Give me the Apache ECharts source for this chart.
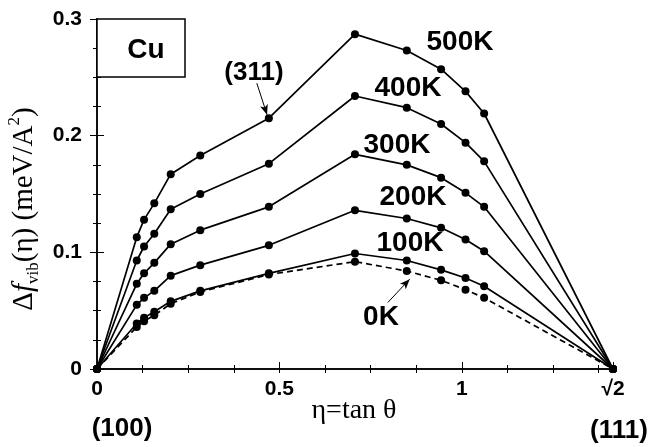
<!DOCTYPE html>
<html>
<head>
<meta charset="utf-8">
<script src="https://cdn.jsdelivr.net/npm/echarts@6/dist/echarts.min.js"></script>
<style>
    html, body { margin: 0; padding: 0; background: #fff; }
    #chartDiv { width: 652px; height: 447px; }
</style>
</head>
<body>
<div id="chartDiv"></div>
<script>
    // eta = tan(theta), (100) ... (311) (211) ... (111)
    var eta = [0, 0.109, 0.129, 0.157, 0.202, 0.283, 0.471, 0.707, 0.849, 0.943, 1.010, 1.061, 1.4142];
    var t500 = [0, 0.113, 0.128, 0.142, 0.167, 0.183, 0.215, 0.287, 0.273, 0.257, 0.238, 0.219, 0];
    var t400 = [0, 0.093, 0.105, 0.116, 0.137, 0.150, 0.176, 0.234, 0.224, 0.210, 0.194, 0.178, 0];
    var t300 = [0, 0.073, 0.082, 0.091, 0.107, 0.119, 0.139, 0.184, 0.175, 0.164, 0.151, 0.139, 0];
    var t200 = [0, 0.055, 0.061, 0.067, 0.080, 0.089, 0.106, 0.136, 0.129, 0.121, 0.111, 0.101, 0];
    var t100 = [0, 0.039, 0.044, 0.049, 0.058, 0.067, 0.082, 0.099, 0.093, 0.085, 0.078, 0.071, 0];
    var t0 = [0, 0.036, 0.041, 0.046, 0.056, 0.066, 0.081, 0.092, 0.084, 0.076, 0.068, 0.061, 0];
    var xTickLabels = {0: '0', 0.5: '0.5', 1: '1'};

    var sans = 'Liberation Sans, Arial, sans-serif';
    var serif = 'Liberation Serif, Times New Roman, serif';
    var gridBox = {left: 97, right: 39, top: 19, bottom: 78};

    function pts(ys) {
        return eta.map(function (x, i) { return [x, ys[i]]; });
    }

    function curve(name, ys, dashed) {
        return {
            name: name,
            type: 'line',
            xAxisIndex: 0,
            yAxisIndex: 0,
            data: pts(ys),
            symbol: 'circle',
            symbolSize: 8,
            itemStyle: {color: '#000'},
            lineStyle: {color: '#000', width: 1.7, type: dashed ? [6, 4] : 'solid'},
            animation: false,
            z: 3
        };
    }

    function arrow(from, to) {
        return {
            silent: true,
            symbol: ['none', 'arrow'],
            symbolSize: [6, 10],
            label: {show: false},
            lineStyle: {color: '#000', width: 1, type: 'solid'},
            data: [[{coord: from}, {coord: to}]],
            animation: false
        };
    }

    // 标注文字
    function note(txt, x, y, size) {
        return {
            type: 'text', x: x, y: y,
            style: {text: txt, font: 'bold ' + size + 'px ' + sans, fill: '#000', align: 'center', verticalAlign: 'middle'},
            z: 11
        };
    }

    var chart = echarts.init(document.getElementById('chartDiv'));

    var s500 = curve('500K', t500);
    s500.markLine = arrow([0.438, 0.245], [0.466, 0.218]);
    var s0 = curve('0K', t0, true);
    s0.markLine = arrow([0.797, 0.057], [0.857, 0.077]);

    var minorX = {
        type: 'value', min: 0, max: 1.4142, interval: 0.125,
        axisLine: {show: true, lineStyle: {color: '#000', width: 1.5}},
        axisTick: {inside: true, length: 4, lineStyle: {color: '#000', width: 1}},
        axisLabel: {show: false},
        splitLine: {show: false}
    };
    var yBase = {
        type: 'value', min: 0, max: 0.3, interval: 0.1,
        axisLine: {show: true, lineStyle: {color: '#000', width: 1.5}},
        axisTick: {inside: true, length: 7, lineStyle: {color: '#000', width: 1}},
        minorTick: {show: true, splitNumber: 4, length: 4, lineStyle: {color: '#000', width: 1}},
        splitLine: {show: false},
        minorSplitLine: {show: false}
    };

    var option = {
        backgroundColor: '#fff',
        animation: false,
        grid: [
            Object.assign({}, gridBox),
            Object.assign({}, gridBox)
        ],
        xAxis: [
            Object.assign({gridIndex: 0, position: 'bottom'}, minorX),
            Object.assign({gridIndex: 0, position: 'top'}, minorX),
            {
                gridIndex: 1, position: 'bottom',
                type: 'value', min: 0, max: 1.4142, interval: 0.5,
                axisLine: {show: false},
                axisTick: {inside: true, length: 7, lineStyle: {color: '#000', width: 1}},
                axisLabel: {
                    showMaxLabel: true, margin: 10,
                    color: '#000', fontFamily: sans, fontWeight: 'bold', fontSize: 21,
                    formatter: function (v) {
                        if (v > 1.4) return '√2';
                        return xTickLabels[v] !== undefined ? xTickLabels[v] : '';
                    }
                },
                splitLine: {show: false}
            }
        ],
        yAxis: [
            Object.assign({
                gridIndex: 0, position: 'left',
                axisLabel: {
                    margin: 15, color: '#000', fontFamily: sans, fontWeight: 'bold', fontSize: 21,
                    formatter: function (v) { return v === 0 ? '0' : v.toFixed(1); }
                }
            }, yBase),
            Object.assign({gridIndex: 0, position: 'right', axisLabel: {show: false}}, yBase),
            {gridIndex: 1, type: 'value', min: 0, max: 0.3, show: false}
        ],
        series: [
            s500,
            curve('400K', t400),
            curve('300K', t300),
            curve('200K', t200),
            curve('100K', t100),
            s0
        ],
        graphic: [
            {
                type: 'rect', shape: {x: 97, y: 19, width: 88, height: 58},
                style: {fill: '#fff', stroke: '#000', lineWidth: 1.5}, z: 10
            },
            note('Cu', 146, 50, 28),
            note('(311)', 254, 73, 26),
            note('500K', 460, 42, 28),
            note('400K', 408, 88, 28),
            note('300K', 397, 145, 28),
            note('200K', 413, 197, 28),
            note('100K', 410, 243, 28),
            note('0K', 381, 317, 28),
            note('(100)', 122, 429, 26),
            note('(111)', 619, 431, 26),
            {type: 'text', x: 354, y: 411, style: {text: 'η=tan θ', font: '28px ' + serif, fill: '#000', align: 'center', verticalAlign: 'middle'}},
            {
                type: 'text', x: 24, y: 209, rotation: Math.PI / 2,
                style: {
                    text: '{a|Δ}{i|f}{s|vib}{a|(η) (meV/A}{p|2}{a|)}',
                    fill: '#000', align: 'center', verticalAlign: 'middle',
                    rich: {
                        a: {fontFamily: serif, fontSize: 29, lineHeight: 36},
                        i: {fontFamily: serif, fontSize: 29, fontStyle: 'italic', lineHeight: 36},
                        s: {fontFamily: serif, fontSize: 17, lineHeight: 17, verticalAlign: 'bottom'},
                        p: {fontFamily: serif, fontSize: 17, lineHeight: 17, verticalAlign: 'top'}
                    }
                }
            }
        ]
    };
    chart.setOption(option);
</script>
</body>
</html>
